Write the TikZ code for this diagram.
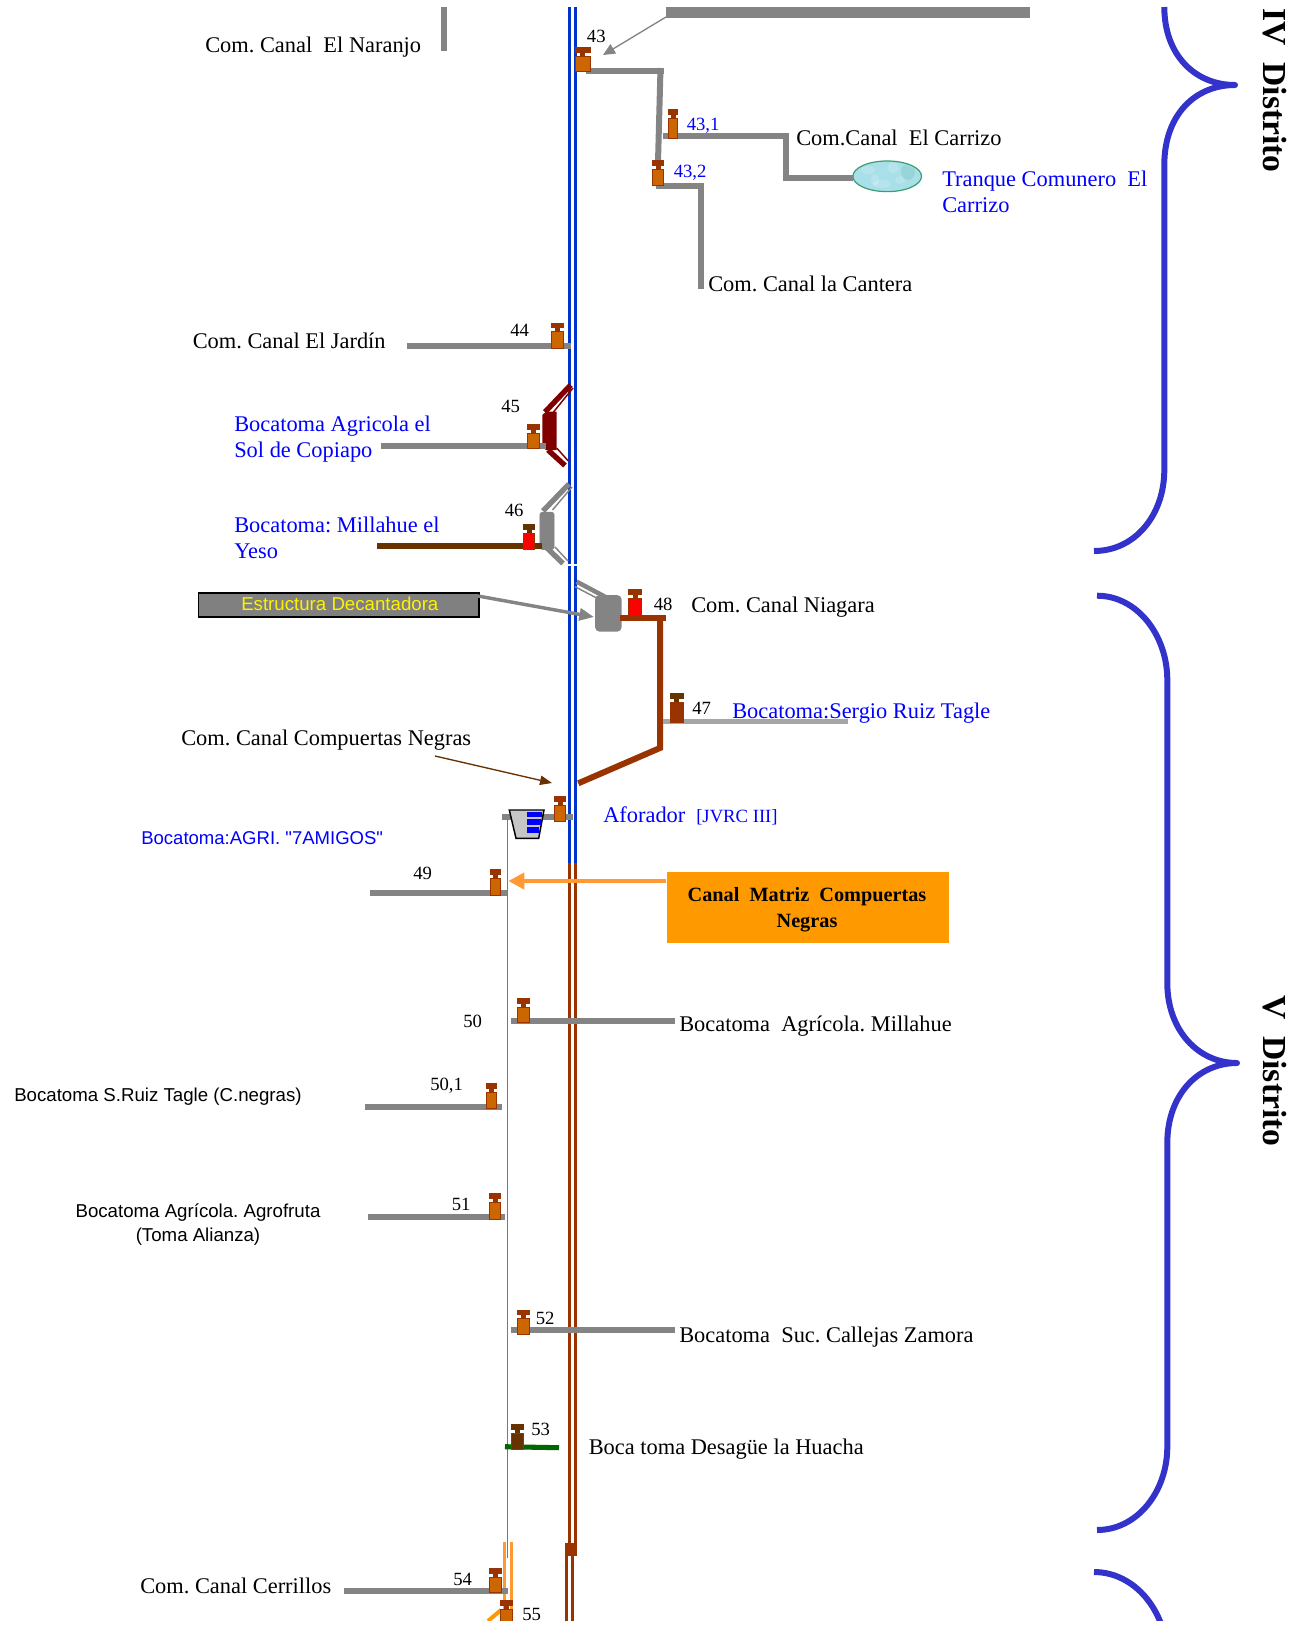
\documentclass[tikz,border=0pt]{standalone}
\usepackage{fontspec}
\setmainfont{Liberation Serif}
\setsansfont{Liberation Sans}
\newfontfamily\sinmapa{Liberation Sans}
\usetikzlibrary{arrows.meta,shapes.geometric}

\definecolor{canalgris}{HTML}{848484}
\definecolor{rielazul}{HTML}{0033CC}
\definecolor{rielcafe}{HTML}{993300}
\definecolor{cafeoscuro}{HTML}{663300}
\definecolor{vino}{HTML}{800000}
\definecolor{llave}{HTML}{3333CC}
\definecolor{naranjo}{HTML}{FF9900}
\definecolor{naranjoclaro}{HTML}{FF9933}
\definecolor{cuerpo}{HTML}{CC6600}
\definecolor{azultexto}{HTML}{0000FF}
\definecolor{agua}{HTML}{A8DFE9}
\definecolor{borde}{HTML}{3A9E72}
\definecolor{hilo}{HTML}{5580B0}

\tikzset{
	canal/.style={line width=4.5pt, canalgris},
	riel/.style={line width=2.25pt},
	toma/.style={line width=1.1pt},
	llaveb/.style={line width=4.5pt, llave, line join=round},
	txt/.style={anchor=base west, inner sep=0pt, font=\fontsize{16.8}{20}\selectfont},
	txtazul/.style={txt, azultexto},
	num/.style={anchor=base west, inner sep=0pt, font=\fontsize{14}{16}\selectfont},
	txtsans/.style={anchor=base west, inner sep=0pt, font=\sffamily\fontsize{14}{17}\selectfont},
	distrito/.style={anchor=base west, inner sep=0pt, rotate=-90, font=\bfseries\fontsize{25.2}{30}\selectfont}
}

% compuerta: centro x, y arriba, y abajo, ancho, color tapa, color cuerpo
\newcommand{\compuerta}[6]{
	\fill[#5] ({#1-#4/2},#2) rectangle ({#1+#4/2},#2+5.5);
	\fill[#5] ({#1-2.5},#2+5) rectangle ({#1+2.5},#2+10);
	\filldraw[fill=#6, draw=rielcafe, line width=0.75pt] ({#1-#4/2+0.5},#2+9) rectangle ({#1+#4/2-0.5},#3-0.5);
}

\begin{document}
\frenchspacing
\begin{tikzpicture}[x=0.75pt, y=-0.75pt, >=Triangle]
	\useasboundingbox (0,0) rectangle (1296,1632);
	\begin{scope}
		\clip (0,0) rectangle (1296,1620.5);
		%%% Rieles
		\draw[riel, rielazul] (569.3,7) -- (569.3,863);
		\draw[riel, rielazul] (575.7,7) -- (575.7,863);
		\draw[white, line width=2pt] (566,565) -- (579,565);
		\draw[riel, rielcafe] (569.3,863) -- (569.3,1543);
		\draw[riel, rielcafe] (575.7,863) -- (575.7,1543);
		\fill[rielcafe] (567.7,1542.7) rectangle (577.3,1555.7);
		\draw[riel, rielcafe] (566.3,1542.7) -- (566.3,1621);
		\draw[riel, rielcafe] (572.3,1555) -- (572.3,1621);
		%%% Canal delgado
		\draw[line width=0.75pt, hilo] (507.3,820) -- (507.3,1558);
		\draw[riel, naranjoclaro] (504.7,1542) -- (504.7,1621);
		\draw[riel, naranjoclaro] (511.3,1542) -- (511.3,1621);
		\draw[line width=3pt, naranjo] (488,1621) -- (501,1610);
		%%% Distrito IV, arriba
		\draw[canal] (444,7) -- (444,51);
		\fill[canalgris] (665.7,7) rectangle (1029.6,17.7);
		\coordinate (bajada) at (666,17);
		\coordinate (punta43) at (603,55);
		\draw[-{Triangle[length=9pt,width=8pt]}, canalgris, line width=1pt] (bajada) -- (punta43);
		\draw[canal] (586,70.7) -- (664,70.7);
		\draw[canal] (660.5,68) -- (658,162);
		\draw[canal] (663,135.7) -- (789,135.7);
		\draw[canal] (786,133) -- (786,181);
		\node[ellipse, draw=borde, line width=0.9pt, fill=agua, minimum width=51.5pt, minimum height=23pt, inner sep=0pt] (tranque) at (887.2,176.3) {};
		\begin{scope}
			\clip (887.2,176.3) ellipse [x radius=32.5, y radius=13.5];
			\foreach \mx/\my/\rx/\ry in {868/170/7/4, 882/184/9/4, 893/168/6/5, 875/180/4/6, 900/180/5/4}
				\fill[white, opacity=0.18] (\mx,\my) ellipse [x radius=\rx, y radius=\ry];
			\fill[borde, opacity=0.14] (908,172) ellipse [x radius=7, y radius=8];
		\end{scope}
		\draw[canal] (786,178) -- (852.5,178);
		\draw[canal] (656,185.7) -- (704,185.7);
		\draw[canal] (701,183) -- (701,288.7);
		%%% Tomas izquierda
		\draw[canal] (407,345.6) -- (571,345.6);
		\fill[vino] (542.3,415) -- (546,411.7) -- (556.7,411.7) -- (556.7,450) -- (546,450) -- (542.3,447) -- cycle;
		\draw[vino, line width=4pt] (545,412) -- (570.7,385);
		\draw[vino, toma] (553.5,412) -- (573,388);
		\draw[vino, line width=4pt] (548,450) -- (565,465.5);
		\draw[vino, toma] (556.7,448) -- (568.3,461);
		\draw[canal] (381,445.7) -- (545.7,445.7);
		\filldraw[fill=canalgris, draw=canalgris, rounded corners=2pt] (539.8,512.2) rectangle (554.2,549.5);
		\draw[canalgris, line width=4pt] (543,511) -- (569,484);
		\draw[canalgris, toma] (552.5,510) -- (572,487);
		\draw[canalgris, line width=4pt] (547,548) -- (563,563.5);
		\draw[canalgris, toma] (555,547) -- (568,561);
		\draw[line width=4.5pt, cafeoscuro] (377,546) -- (541.7,546);
		%%% Decantadora
		\node[draw, line width=1.4pt, fill=gray, minimum width=210.6pt, minimum height=17.6pt, inner sep=0pt, anchor=north west] (decanta) at (197.6,592.2) {};
		\node[anchor=base west, inner sep=0pt, yellow, font=\sffamily\fontsize{14}{17}\selectfont] (decantatxt) at (241,610) {Estructura Decantadora};
		\fill[canalgris, rounded corners=3.5pt] (595,595) rectangle (621.7,631.7);
		\coordinate (salida) at (478,596);
		\coordinate (entrada) at (594,617);
		\draw[-{Triangle[length=11pt,width=9pt]}, canalgris, line width=2.6pt] (salida) -- (entrada);
		\draw[canalgris, line width=3.4pt] (576.7,581.7) -- (605,596.7);
		\draw[canalgris, toma] (575,586.7) -- (596.7,598);
		%%% Canal Niagara y Sergio Ruiz
		\draw[line width=4.5pt, rielcafe] (620,617.7) -- (666,617.7);
		\draw[line width=4.5pt, rielcafe, line join=miter] (660,617) -- (660,748) -- (578.3,783.3);
		\draw[line width=3.6pt, gray!70] (662.5,721.5) -- (848,721.5);
		%%% Aforador
		\coordinate (negrasini) at (435,756);
		\coordinate (negrasfin) at (552,783);
		\draw[-{Triangle[length=9pt,width=7pt]}, cafeoscuro, line width=1pt] (negrasini) -- (negrasfin);
		\draw[line width=3.8pt, canalgris] (502,817) -- (572.7,817);
		\filldraw[fill=gray!45, draw=black, line width=1.1pt] (509.3,810) -- (544,810) -- (538.7,838.3) -- (516,838.3) -- cycle;
		\fill[azultexto] (527,811.7) rectangle (542.3,817);
		\fill[azultexto] (527,819.3) rectangle (541,825);
		\fill[azultexto] (527,826.7) rectangle (539,833);
		%%% Caja naranja
		\node[fill=naranjo, minimum width=211pt, minimum height=53pt, inner sep=0pt, anchor=north west] (matriz) at (667,872) {};
		\coordinate (matrizpunta) at (508.3,881);
		\coordinate (matrizsale) at (666,881);
		\draw[-{Triangle[length=12pt,width=12pt]}, naranjoclaro, line width=3.6pt] (matrizsale) -- (matrizpunta);
		%%% Tomas abajo
		\draw[canal] (370,893) -- (507,893);
		\draw[canal] (511,1021) -- (675,1021);
		\draw[canal] (365,1106.7) -- (502,1106.7);
		\draw[canal] (368,1216.7) -- (505,1216.7);
		\draw[canal] (511,1330) -- (675,1330);
		\draw[line width=3.8pt, green!40!black] (505,1446.7) -- (559,1447.7);
		\draw[canal] (344,1590.7) -- (507.7,1590.7);
		%%% Compuertas
		\foreach \cx/\arriba/\abajo/\ancho in {582.5/47.3/71.5/16, 673/109/139/10, 658/160/185.5/12.5, 557.5/322.7/348.7/13.5, 533/424/449/13, 560/796/821.5/12, 495.5/869/895.7/11, 523.5/998/1023/13, 491.5/1083/1109/11, 495/1193/1220/12, 523.5/1309.6/1334.6/13, 495.5/1568/1593/13, 506.5/1600/1626/13}
			\compuerta{\cx}{\arriba}{\abajo}{\ancho}{rielcafe}{cuerpo};
		\compuerta{529}{524}{549.5}{12.5}{cafeoscuro}{red}
		\compuerta{635}{589}{616.5}{14}{rielcafe}{red}
		\compuerta{676.5}{693}{722.5}{14}{cafeoscuro}{rielcafe}
		\compuerta{517.2}{1424}{1450}{13}{cafeoscuro}{cafeoscuro}
		%%% Llaves
		\draw[llaveb] (1164.3,7) .. controls (1164.3,55) and (1195,85) .. (1235,85) .. controls (1195,85) and (1164.3,115) .. (1164.3,165) -- (1164.3,470) .. controls (1164.3,515) and (1135,551) .. (1094,551);
		\draw[llaveb] (1097,595.7) .. controls (1137,595.7) and (1167.3,635) .. (1167.3,680) -- (1167.3,983) .. controls (1167.3,1030) and (1198,1063) .. (1237,1063) .. controls (1198,1063) and (1167.3,1095) .. (1167.3,1143) -- (1167.3,1446.7) .. controls (1167.3,1492) and (1137,1530) .. (1097,1530);
		\draw[llaveb] (1094,1572) .. controls (1134,1572) and (1167.3,1610) .. (1167.3,1660);
	\end{scope}
	%%% Textos
	\node[txt] (naranjotxt) at (205,52) {Com. Canal\ \ El Naranjo};
	\node[num] (n43) at (586.7,42.7) {43};
	\node[num, azultexto] (n431) at (686.5,130) {43,1};
	\node[num, azultexto] (n432) at (673.5,177) {43,2};
	\node[txt] (carrizo) at (796,145) {Com.Canal\ \ El Carrizo};
	\node[txtazul] (tranquea) at (942,186.5) {Tranque Comunero\ \ El};
	\node[txtazul] (tranqueb) at (942,212) {Carrizo};
	\node[txt] (cantera) at (708,291.5) {Com. Canal la Cantera};
	\node[txt] (jardin) at (192.5,348.7) {Com. Canal El Jardín};
	\node[num] (n44) at (510,336) {44};
	\node[num] (n45) at (501,412.3) {45};
	\node[txtazul] (sola) at (234,431) {Bocatoma Agricola el};
	\node[txtazul] (solb) at (234,457) {Sol de Copiapo};
	\node[num] (n46) at (504.5,516.7) {46};
	\node[txtazul] (millaa) at (234,532) {Bocatoma: Millahue el};
	\node[txtazul] (millab) at (234,558) {Yeso};
	\node[num] (n48) at (653.5,610.7) {48};
	\node[txt] (niagara) at (691,612) {Com. Canal Niagara};
	\node[num] (n47) at (692,714) {47};
	\node[txtazul] (sergio) at (732,718) {Bocatoma:Sergio Ruiz Tagle};
	\node[txt] (negras) at (181,745) {Com. Canal Compuertas Negras};
	\node[txtazul] (aforador) at (603,822) {Aforador};
	\node[anchor=base west, inner sep=0pt, azultexto, font=\fontsize{14}{17}\selectfont] (jvrc) at (696,822) {[JVRC III]};
	\node[anchor=base west, inner sep=0pt, azultexto, font=\sinmapa\fontsize{13.9}{17}\selectfont] (amigos) at (141,844) {Bocatoma:AGRI. "7AMIGOS"};
	\node[num] (n49) at (413,879) {49};
	\node[anchor=base, inner sep=0pt, font=\bfseries\fontsize{15.2}{18}\selectfont] (matriza) at (807,901.5) {Canal\ \ Matriz\ \ Compuertas};
	\node[anchor=base, inner sep=0pt, font=\bfseries\fontsize{15.2}{18}\selectfont] (matrizb) at (807,927.5) {Negras};
	\node[num] (n50) at (463,1027) {50};
	\node[txt] (millahue) at (679,1031.6) {Bocatoma\ \ Agrícola. Millahue};
	\node[txtsans] (ruiz) at (14,1101.7) {Bocatoma S.Ruiz Tagle (C.negras)};
	\node[num] (n501) at (430,1090) {50,1};
	\node[txtsans, anchor=base] (agroa) at (198,1217.3) {Bocatoma Agrícola. Agrofruta};
	\node[txtsans, anchor=base] (agrob) at (198,1241.7) {(Toma Alianza)};
	\node[num] (n51) at (451.5,1210.7) {51};
	\node[num] (n52) at (535.5,1324) {52};
	\node[txt] (callejas) at (679,1342) {Bocatoma\ \ Suc. Callejas Zamora};
	\node[num] (n53) at (531,1435) {53};
	\node[txt] (huacha) at (588.5,1454.5) {Boca toma Desagüe la Huacha};
	\node[txt] (cerrillos) at (140,1593) {Com. Canal Cerrillos};
	\node[num] (n54) at (453,1585) {54};
	\node[num] (n55) at (522,1620) {55};
	\node[distrito] (distiv) at (1263,8) {IV\ \ Distrito};
	\node[distrito] (distv) at (1263,995) {V\ \ Distrito};
\end{tikzpicture}
\end{document}
